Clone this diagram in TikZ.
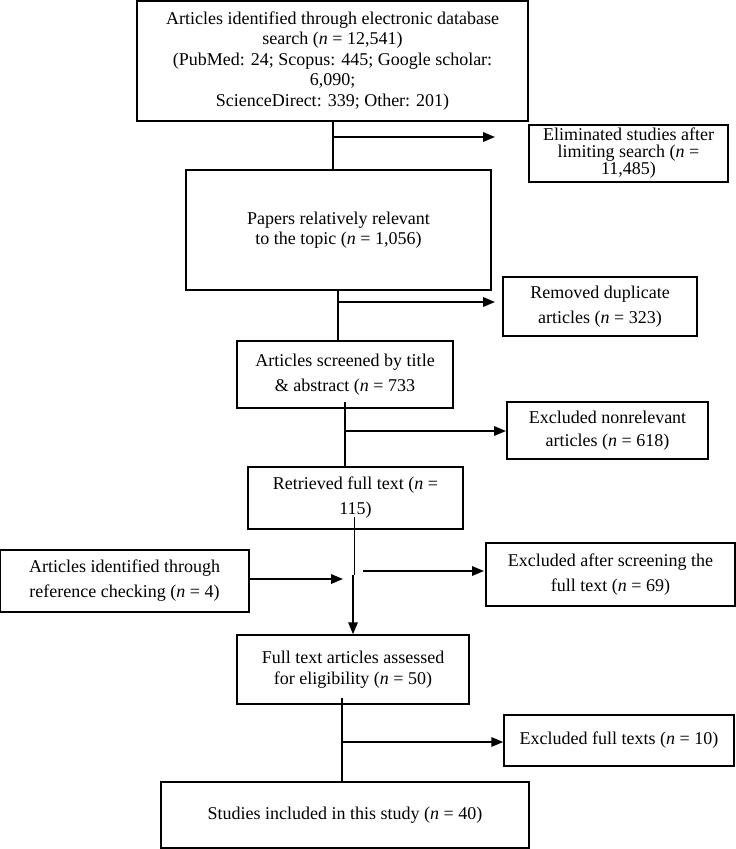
\documentclass[tikz,border=0pt]{standalone}
\usepackage{fontspec}
\setmainfont{Liberation Serif}
\usetikzlibrary{arrows.meta}
\begin{document}
\begin{tikzpicture}[x=1pt,y=-1pt,
  box/.style={draw, line width=1.5pt, inner sep=0pt, align=center},
  fA/.style={font=\fontsize{18}{20.5}\selectfont},
  fB/.style={font=\fontsize{18}{17}\selectfont},
  fC/.style={font=\fontsize{18}{23}\selectfont},
  fD/.style={font=\fontsize{18}{25}\selectfont},
  conn/.style={line width=1.8pt},
  arr/.style={line width=1.8pt, -{Triangle[length=12pt,width=9.5pt]}}]
\useasboundingbox (0,0) rectangle (736,849);

\node[box,fA,minimum width=391pt,minimum height=120pt] (top) at (332.5,61)
  {Articles identified through electronic database\\ search (\textit{n} = 12,541)\\ (PubMed: 24; Scopus: 445; Google scholar:\\ 6,090;\\ ScienceDirect: 339; Other: 201)};
\node[box,fB,minimum width=199pt,minimum height=57pt] (elim) at (628.5,153.5)
  {Eliminated studies after\\ limiting search (\textit{n} =\\ 11,485)};
\node[box,fA,minimum width=305pt,minimum height=120pt] (papers) at (338.5,230)
  {Papers relatively relevant\\ to the topic (\textit{n} = 1,056)};
\node[box,fD,minimum width=194pt,minimum height=59pt] (removed) at (600,306.5)
  {Removed duplicate\\ articles (\textit{n} = 323)};
\node[box,fD,minimum width=216pt,minimum height=67pt] (screened) at (345,374.5)
  {Articles screened by title\\ \& abstract (\textit{n} = 733};
\node[box,fC,minimum width=201pt,minimum height=57pt] (nonrel) at (607.5,430.5)
  {Excluded nonrelevant\\ articles (\textit{n} = 618)};
\node[box,fD,minimum width=215pt,minimum height=62pt] (retrieved) at (355.5,498)
  {Retrieved full text (\textit{n} =\\ 115)};
\node[box,fD,minimum width=249pt,minimum height=62pt] (refcheck) at (124.5,581)
  {Articles identified through\\ reference checking (\textit{n} = 4)};
\node[box,fD,minimum width=249pt,minimum height=63pt] (exclafter) at (610.5,574.5)
  {Excluded after screening the\\ full text (\textit{n} = 69)};
\node[box,fA,minimum width=232pt,minimum height=69pt] (fulltext) at (353,669.5)
  {Full text articles assessed\\ for eligibility (\textit{n} = 50)};
\node[box,fA,minimum width=230pt,minimum height=51pt] (exclfull) at (619,740.5)
  {Excluded full texts (\textit{n} = 10)};
\node[box,fA,minimum width=368pt,minimum height=66pt] (studies) at (345,815)
  {Studies included in this study (\textit{n} = 40)};

% connectors
\coordinate (j1) at (333,137);
\coordinate (e1) at (495,137);
\draw[conn] (j1 |- top.south) -- (j1 |- papers.north);
\draw[arr] (j1) -- (e1);

\coordinate (j2) at (338,302);
\coordinate (e2) at (495,302);
\draw[conn] (j2 |- papers.south) -- (j2 |- screened.north);
\draw[arr] (j2) -- (e2);

\coordinate (s3) at (345,402);
\coordinate (j3) at (345,431);
\coordinate (e3) at (506,431);
\draw[conn] (s3) -- (s3 |- retrieved.north);
\draw[arr] (j3) -- (e3);

\coordinate (s4) at (354.5,517);
\coordinate (g4) at (354.5,575);
\coordinate (g4b) at (353,575);
\draw[conn] (s4) -- (g4);
\draw[arr] (g4b) -- (g4b |- fulltext.north);

\coordinate (e5) at (343,579);
\draw[arr] (refcheck.east |- e5) -- (e5);

\coordinate (s6) at (363,571);
\coordinate (e6) at (484,571);
\draw[arr] (s6) -- (e6);

\coordinate (s7) at (342,698);
\coordinate (j7) at (342,742);
\draw[conn] (s7) -- (s7 |- studies.north);
\draw[arr] (j7) -- (exclfull.west |- j7);
\end{tikzpicture}
\end{document}
